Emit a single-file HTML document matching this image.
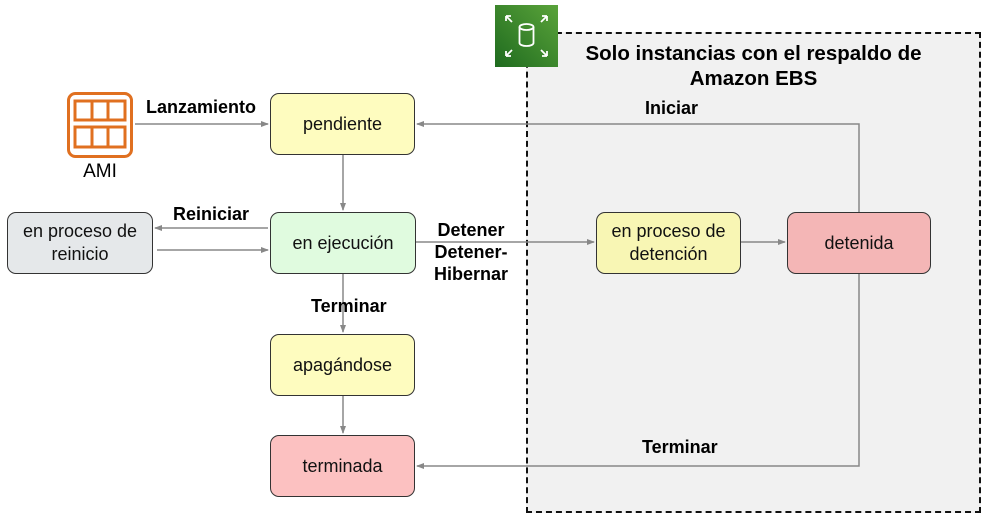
<!DOCTYPE html>
<html><head><meta charset="utf-8"><style>
body{margin:0;width:995px;height:520px;background:#fff;position:relative;font-family:"Liberation Sans",Arial,sans-serif;overflow:hidden}
.b{position:absolute;border:1px solid #333;border-radius:9px;box-sizing:border-box;display:flex;align-items:center;justify-content:center;text-align:center;font-size:18px;line-height:23px;color:#111}
.l{position:absolute;font-weight:bold;font-size:18px;color:#000;white-space:nowrap}
</style></head><body>
<div style="position:absolute;left:526px;top:32px;width:455px;height:481px;background:#f1f1f1;border:2px dashed #111;box-sizing:border-box"></div>
<div style="position:absolute;left:495px;top:5px;width:63px;height:62px;background:linear-gradient(45deg,#1f6b1f,#5aa33a)"></div>
<svg style="position:absolute;left:495px;top:5px" width="63" height="62" viewBox="0 0 63 62" fill="none" stroke="#fff" stroke-width="1.8">
<ellipse cx="31.5" cy="22" rx="7" ry="3"/><path d="M24.5 22v16a7 3 0 0 0 14 0V22"/>
<path d="M11 11l6 6M11 11v5M11 11h5M52 11l-6 6M52 11v5M52 11h-5M11 51l6-6M11 51v-5M11 51h5M52 51l-6-6M52 51v-5M52 51h-5"/></svg>
<div class="l" style="left:526px;width:455px;top:41px;text-align:center;font-size:20.5px;line-height:25px">Solo instancias con el respaldo de<br>Amazon EBS</div>
<svg style="position:absolute;left:0;top:0" width="995" height="520" fill="none" stroke="#888" stroke-width="1.5">
<defs><marker id="a" markerWidth="8" markerHeight="8" refX="7" refY="4" orient="auto" markerUnits="userSpaceOnUse"><path d="M0 1L8 4L0 7z" fill="#888" stroke="none"/></marker></defs>
<path d="M135 124H268" marker-end="url(#a)"/>
<path d="M859 212V124H417" marker-end="url(#a)"/>
<path d="M268 228H155" marker-end="url(#a)"/>
<path d="M157 250H268" marker-end="url(#a)"/>
<path d="M416 242H594" marker-end="url(#a)"/>
<path d="M741 242H785" marker-end="url(#a)"/>
<path d="M859 274V466H417" marker-end="url(#a)"/>
<path d="M343 155V210" marker-end="url(#a)"/>
<path d="M343 274V332" marker-end="url(#a)"/>
<path d="M343 396V433" marker-end="url(#a)"/>
</svg>
<svg style="position:absolute;left:67px;top:92px" width="66" height="66" fill="none" stroke="#e07020" stroke-width="3">
<rect x="1.5" y="1.5" width="63" height="63" rx="7"/><rect x="8" y="9" width="50" height="19"/><rect x="8" y="35" width="50" height="20"/>
<path d="M25 9v19M41 9v19M25 35v20M41 35v20"/></svg>
<div style="position:absolute;left:67px;width:66px;top:161px;text-align:center;font-size:19px">AMI</div>
<div class="b" style="left:270px;top:93px;width:145px;height:62px;background:#fefcbf">pendiente</div>
<div class="b" style="left:270px;top:212px;width:146px;height:62px;background:#e0fbdf">en ejecución</div>
<div class="b" style="left:7px;top:212px;width:146px;height:62px;background:#e5e8ea">en proceso de<br>reinicio</div>
<div class="b" style="left:270px;top:334px;width:145px;height:62px;background:#fefcbf">apagándose</div>
<div class="b" style="left:270px;top:435px;width:145px;height:62px;background:#fcc1c1">terminada</div>
<div class="b" style="left:596px;top:212px;width:145px;height:62px;background:#f8f6b4">en proceso de<br>detención</div>
<div class="b" style="left:787px;top:212px;width:144px;height:62px;background:#f4b6b6">detenida</div>
<div class="l" style="left:146px;top:97px">Lanzamiento</div>
<div class="l" style="left:173px;top:204px">Reiniciar</div>
<div class="l" style="left:420px;width:102px;top:219px;text-align:center;line-height:22px">Detener<br>Detener-<br>Hibernar</div>
<div class="l" style="left:311px;top:296px">Terminar</div>
<div class="l" style="left:645px;top:98px">Iniciar</div>
<div class="l" style="left:642px;top:437px">Terminar</div>
</body></html>
